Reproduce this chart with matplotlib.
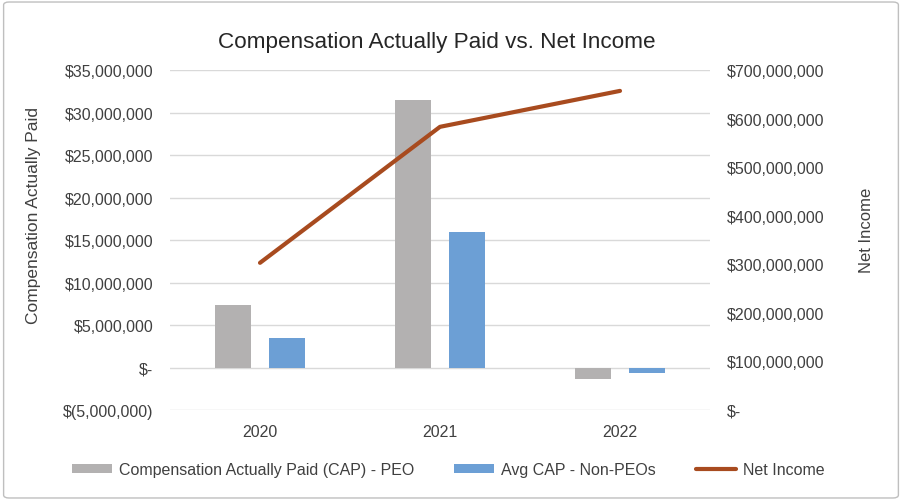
import matplotlib
matplotlib.use("Agg")
import matplotlib.pyplot as plt
from matplotlib.patches import FancyBboxPatch
from matplotlib.ticker import FuncFormatter, MultipleLocator
import numpy as np

years = ["2020", "2021", "2022"]
cap_peo = [7_400_000, 31_500_000, -1_300_000]
cap_non_peo = [3_500_000, 15_900_000, -700_000]
net_income = [303_000_000, 583_000_000, 657_000_000]

plt.rcParams['font.family'] = ['Liberation Sans', 'DejaVu Sans']

fig = plt.figure(figsize=(9.02, 5.02), dpi=100)
fig.patches.append(FancyBboxPatch((0.004, 0.006), 0.992, 0.988, boxstyle="round,pad=0,rounding_size=0.006",
                                  transform=fig.transFigure, facecolor='white', edgecolor='#BFBFBF', lw=1.0, zorder=-10))
ax = fig.add_axes([170/902, 91/502, 540/902, 340/502])
ax.set_facecolor('none')
x = np.arange(len(years))
w = 0.2
off = 0.15
gray = '#B3B1B1'
blue = '#6C9FD5'
brown = '#A84B1F'
b1 = ax.bar(x - off, cap_peo, w, color=gray, label='Compensation Actually Paid (CAP) - PEO', zorder=3)
b2 = ax.bar(x + off, cap_non_peo, w, color=blue, label='Avg CAP - Non-PEOs', zorder=3)
ax.set_xlim(-0.5, 2.5)
ax.set_ylim(-5_000_000, 35_000_000)
ax.yaxis.set_major_locator(MultipleLocator(5_000_000))

def left_fmt(v, p):
    v = round(v)
    if v == 0:
        return '$-'
    if v < 0:
        return '$({:,})'.format(-v)
    return '${:,}'.format(v)

def right_fmt(v, p):
    v = round(v)
    if v == 0:
        return '$-'
    return '${:,}'.format(v)

ax.yaxis.set_major_formatter(FuncFormatter(left_fmt))
ax.grid(axis='y', color='#D9D9D9', lw=1.0, zorder=0)
for s in ax.spines.values():
    s.set_visible(False)
ax.set_xticks(x)
ax.set_xticklabels(years)
ax.tick_params(axis='both', length=0, labelsize=11.5, colors='#404040')
ax.tick_params(axis='x', pad=10)
ax.tick_params(axis='y', pad=12)
ax.set_ylabel('Compensation Actually Paid', fontsize=12.5, color='#404040', va='center')
ax.yaxis.set_label_coords(-0.252, 0.576)

ax2 = ax.twinx()
l1, = ax2.plot(x, net_income, color=brown, lw=3, label='Net Income', zorder=4, solid_capstyle='round')
ax2.set_ylim(0, 700_000_000)
ax2.yaxis.set_major_locator(MultipleLocator(100_000_000))
ax2.yaxis.set_major_formatter(FuncFormatter(right_fmt))
for s in ax2.spines.values():
    s.set_visible(False)
ax2.tick_params(axis='y', length=0, labelsize=11.5, colors='#404040', pad=12)
ax2.set_ylabel('Net Income', fontsize=12, color='#404040', va='center')
ax2.yaxis.set_label_coords(1.29, 0.532)

fig.text(0.484, 0.915, 'Compensation Actually Paid vs. Net Income', ha='center', va='center', fontsize=16.2, color='#262626')

leg = fig.legend([b1, b2, l1], [b1.get_label(), b2.get_label(), l1.get_label()], loc='center', bbox_to_anchor=(0.497, 0.063),
                 ncol=3, frameon=False, fontsize=11.5, handlelength=2.5, handleheight=0.5, columnspacing=2.5, handletextpad=0.45)
for t in leg.get_texts():
    t.set_color('#404040')

fig.savefig('out.png', dpi=100)
